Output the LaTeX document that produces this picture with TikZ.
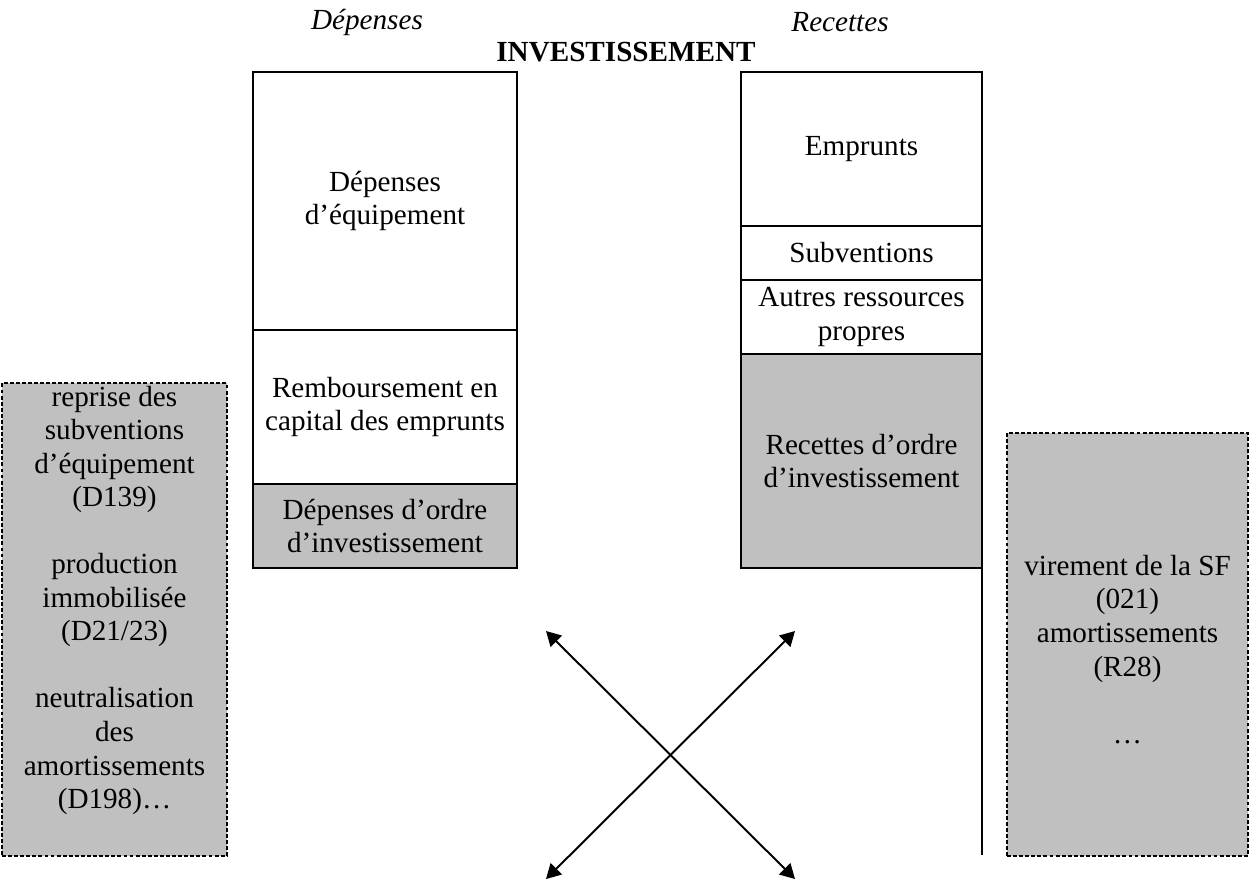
\documentclass[tikz,border=0pt]{standalone}
\usepackage{fontspec}
\setmainfont{Liberation Serif}
\usetikzlibrary{positioning, arrows.meta}
\definecolor{ordregrey}{HTML}{C0C0C0}
\newcommand{\pxl}{0.4115pt}

\begin{document}
\begin{tikzpicture}[
    x=\pxl, y=-\pxl,
    font=\fontsize{12}{13.8}\selectfont,
    part/.style={rectangle, draw, line width=1pt, outer sep=0pt, inner sep=0pt, align=center},
    ordre/.style={part, fill=ordregrey},
    extra/.style={rectangle, draw, fill=ordregrey, line width=0.5pt, dash pattern=on 1.6pt off 0.9pt, outer sep=0pt},
    cross/.style={{Triangle[length=6pt,width=6.5pt]}-{Triangle[length=6pt,width=6.5pt]}, line width=0.8pt},
]
    \useasboundingbox (0,0) rectangle (1251,888);

    % Titles
    \node[font=\fontsize{12}{13.8}\selectfont\itshape] (DepTitle) at (367,22) {Dépenses};
    \node[font=\fontsize{12}{13.8}\selectfont\itshape] (RecTitle) at (840,22) {Recettes};
    \node[font=\fontsize{12}{13.8}\selectfont\bfseries] (InvTitle) at (626,52) {INVESTISSEMENT};

    % Depenses
    \node[part, minimum width=264*\pxl, minimum height=258*\pxl, anchor=north west] (DepEqu) at (253,72) {Dépenses\\d’équipement};
    \node[part, minimum width=264*\pxl, minimum height=154*\pxl, below=0pt of DepEqu] (Remb) {Remboursement en\\capital des emprunts};
    \node[ordre, minimum width=264*\pxl, minimum height=84*\pxl, below=0pt of Remb] (DepOrd) {Dépenses d’ordre\\d’investissement};

    % Recettes
    \node[part, minimum width=241*\pxl, minimum height=154*\pxl, anchor=north west] (Empr) at (741,72) {Emprunts};
    \node[part, minimum width=241*\pxl, minimum height=54*\pxl, below=0pt of Empr] (Subv) {Subventions};
    \node[part, minimum width=241*\pxl, minimum height=74*\pxl, below=0pt of Subv] (Autres) {Autres ressources\\propres};
    \node[ordre, minimum width=241*\pxl, minimum height=214*\pxl, below=0pt of Autres] (RecOrd) {Recettes d’ordre\\d’investissement};

    % Operations d'ordre
    \node[extra, minimum width=225*\pxl, minimum height=473*\pxl, anchor=north west] (ExtraD) at (2,383) {};
    \node[align=center, inner sep=0pt, anchor=north] (ExtraDText) at ([yshift=-1pt]ExtraD.north)
        {reprise des\\subventions\\d’équipement\\(D139)\\[13.8pt]production\\immobilisée\\(D21/23)\\[13.8pt]neutralisation\\des\\amortissements\\(D198)…};
    \node[extra, minimum width=241*\pxl, minimum height=423*\pxl, anchor=north west] (ExtraR) at (1007,433) {};
    \node[align=center, inner sep=0pt] (ExtraRText) at ([yshift=-2pt]ExtraR.center)
        {virement de la SF\\(021)\\amortissements\\(R28)\\[13.8pt]…};

    % Lines
    \coordinate (LineEnd) at (982,855);
    \draw[line width=1pt] (RecOrd.south east) -- (LineEnd);

    \coordinate (XTopL) at (546,631);
    \coordinate (XTopR) at (795,631);
    \coordinate (XBotL) at (546,879);
    \coordinate (XBotR) at (795,879);
    \draw[cross] (XTopL) -- (XBotR);
    \draw[cross] (XTopR) -- (XBotL);
\end{tikzpicture}
\end{document}
